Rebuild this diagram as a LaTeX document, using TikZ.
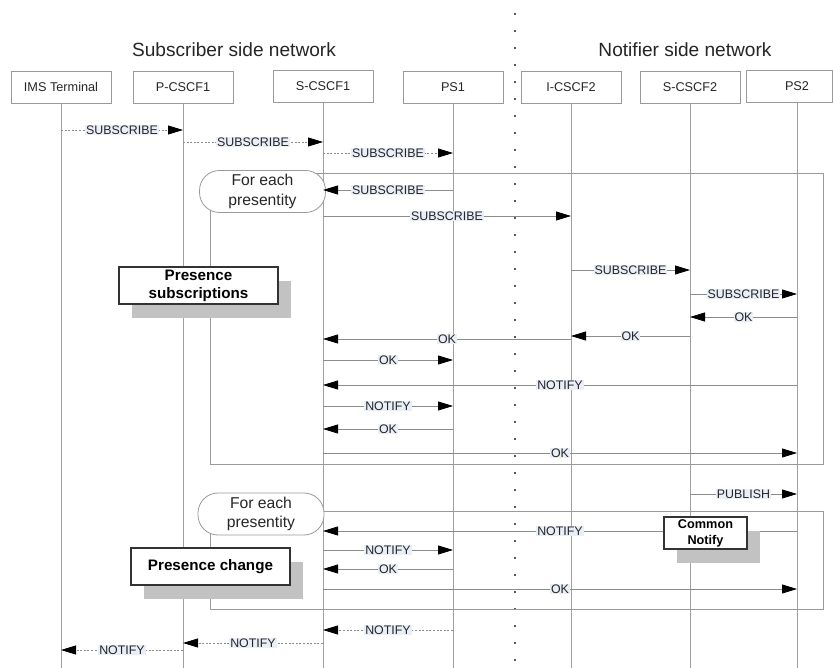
\documentclass[tikz,border=0pt]{standalone}
\usepackage{fontspec}
\setmainfont{Liberation Sans}
\usetikzlibrary{arrows.meta,shadows}
\definecolor{lineg}{HTML}{8C8C8C}
\definecolor{lifeg}{HTML}{A0A0A0}
\definecolor{boxg}{HTML}{9A9A9A}
\definecolor{lblbg}{RGB}{233,238,248}
\definecolor{shadowg}{HTML}{C2C2C2}
\definecolor{txt}{HTML}{262626}

% one message between two lifelines at height #4
\newcommand{\sendmsg}[5][msg]{\draw[#1] (#2 |- 0,#4) -- node[lbl] {#5} (#3 |- 0,#4);}

\begin{document}
\begin{tikzpicture}[x=1pt,y=-1pt,
  hdr/.style={draw=boxg, fill=white, line width=0.7pt, minimum width=100pt,
    minimum height=32pt, inner sep=0pt, text=txt, font=\fontsize{12.7}{14}\selectfont},
  title/.style={text=txt, font=\fontsize{19.1}{21}\selectfont},
  lifeline/.style={draw=lifeg, line width=0.8pt},
  framebox/.style={draw=boxg, line width=0.8pt},
  loopbox/.style={draw=boxg, fill=white, line width=0.8pt, rounded corners=20pt,
    minimum width=126pt, minimum height=42pt, inner sep=0pt, align=center, text=txt,
    font=\fontsize{15.7}{19.5}\selectfont},
  notebox/.style={draw=black!80, fill=white, line width=1.1pt, inner sep=0pt,
    align=center, text=black, font=\bfseries\fontsize{15.2}{18}\selectfont,
    drop shadow={shadow xshift=13pt, shadow yshift=-14pt, opacity=1, fill=shadowg, draw=none}},
  lbl/.style={fill=lblbg, inner sep=1pt, text=txt, font=\fontsize{12.4}{13}\selectfont},
  msg/.style={draw=lineg, line width=0.8pt, -{Triangle[length=15pt,width=9pt,black]}},
  dmsg/.style={msg, dash pattern=on 2pt off 1.6pt},
]
\useasboundingbox[fill=white] (0,0) rectangle (833,668);

% side titles
\node[title] (subnet) at (234,50) {Subscriber side network};
\node[title] (notnet) at (685,50) {Notifier side network};

% participants
\node[hdr] (ims) at (61,87) {IMS Terminal};
\node[hdr] (p1)  at (183,87) {P-CSCF1};
\node[hdr] (s1)  at (323,86) {S-CSCF1};
\node[hdr] (ps1) at (453,87) {PS1};
\node[hdr] (i2)  at (571,87) {I-CSCF2};
\node[hdr] (s2)  at (690,87) {S-CSCF2};
\node[hdr, minimum width=86pt] (ps2box) at (789,86) {};
\node[text=txt, font=\fontsize{12.7}{14}\selectfont] (ps2) at (797,86) {PS2};

% lifelines
\foreach \p in {ims,p1,s1,ps1,i2,s2}
  \draw[lifeline] (\p.south) -- (\p |- 0,668);
\draw[lifeline] (ps2 |- ps2box.south) -- (ps2 |- 0,668);

% network border
\draw[dash pattern=on 1.8pt off 15.2pt, line width=1.8pt, draw=black!65] (515,13) -- (515,668);

% loop frames
\draw[framebox] (210,173) rectangle (823,464);
\draw[framebox] (210,511) rectangle (823,609);
\node[loopbox] (loop1) at (262.5,191.5) {For each\\presentity};
\node[loopbox] (loop2) at (261,514) {For each\\presentity};

% subscription phase
\sendmsg[dmsg]{ims}{p1}{130}{SUBSCRIBE}
\sendmsg[dmsg]{p1}{s1}{142}{SUBSCRIBE}
\sendmsg[dmsg]{s1}{ps1}{153}{SUBSCRIBE}
\sendmsg{ps1}{s1}{190}{SUBSCRIBE}
\sendmsg{s1}{i2}{216}{SUBSCRIBE}
\sendmsg{i2}{s2}{270}{SUBSCRIBE}
\sendmsg{s2}{ps2}{294}{SUBSCRIBE}
\sendmsg{ps2}{s2}{317}{OK}
\sendmsg{s2}{i2}{336}{OK}
\sendmsg{i2}{s1}{339}{OK}
\sendmsg{s1}{ps1}{360}{OK}
\sendmsg{ps2}{s1}{385}{NOTIFY}
\sendmsg{s1}{ps1}{406}{NOTIFY}
\sendmsg{ps1}{s1}{429}{OK}
\sendmsg{s1}{ps2}{453}{OK}

% presence change phase
\sendmsg{s2}{ps2}{494}{PUBLISH}
\sendmsg{ps2}{s1}{531}{NOTIFY}
\sendmsg{s1}{ps1}{550}{NOTIFY}
\sendmsg{ps1}{s1}{569}{OK}
\sendmsg{s1}{ps2}{589}{OK}
\sendmsg[dmsg]{ps1}{s1}{630}{NOTIFY}
\sendmsg[dmsg]{s1}{p1}{643}{NOTIFY}
\sendmsg[dmsg]{p1}{ims}{650}{NOTIFY}

% phase notes
\node[notebox, minimum width=159pt, minimum height=37pt] (subs) at (198.5,285.5) {Presence\\subscriptions};
\node[notebox, minimum width=159pt, minimum height=37pt] (chg) at (210.5,566.5) {Presence change};
\node[notebox, minimum width=83pt, minimum height=32pt, font=\bfseries\fontsize{12.7}{16}\selectfont] (cn) at (705.5,533) {Common\\Notify};
\end{tikzpicture}
\end{document}
